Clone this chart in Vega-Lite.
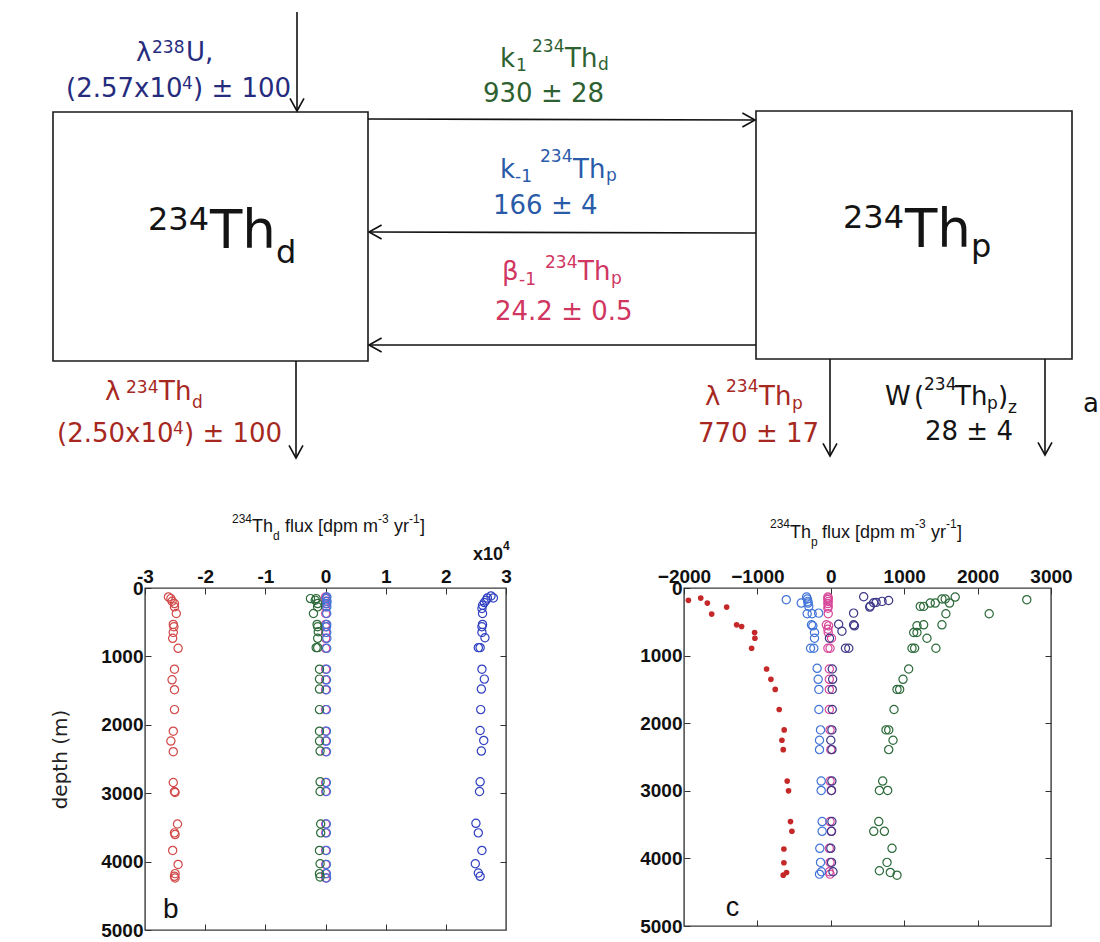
{
  "$schema": "https://vega.github.io/schema/vega-lite/v6.json",
  "padding": {"left": 50, "top": 0, "right": 0, "bottom": 0},
  "background": "white",
  "spacing": 0,
  "columns": 1,
  "align": "none",
  "resolve": {"scale": {"color": "independent", "size": "independent"}},
  "config": {
    "view": {"stroke": null},
    "axis": {
      "labelFont": "Liberation Sans",
      "labelFontWeight": "bold",
      "labelFontSize": 19,
      "labelColor": "#111",
      "tickColor": "#333",
      "tickSize": -6,
      "tickWidth": 1,
      "labelPadding": 8,
      "domain": false,
      "grid": false,
      "labelFlush": false,
      "labelOverlap": false,
      "labelBound": false
    }
  },
  "datasets": {
    "boxes": [
      {"x1": 53, "x2": 368, "y1": 112, "y2": 361},
      {"x1": 756, "x2": 1072, "y1": 111, "y2": 359}
    ],
    "arrows": [
      {"x1": 297, "y1": 12, "x2": 297, "y2": 111, "dir": "down"},
      {"x1": 368, "y1": 119, "x2": 755, "y2": 120, "dir": "right"},
      {"x1": 756, "y1": 233, "x2": 369, "y2": 232, "dir": "left"},
      {"x1": 756, "y1": 345, "x2": 369, "y2": 345, "dir": "left"},
      {"x1": 296, "y1": 361, "x2": 296, "y2": 458, "dir": "down"},
      {"x1": 830, "y1": 359, "x2": 830, "y2": 456, "dir": "down"},
      {"x1": 1045, "y1": 359, "x2": 1045, "y2": 455, "dir": "down"}
    ],
    "labels": [
      {"x": 136, "y": 61, "t": "λ", "k": "m", "c": "U"},
      {"x": 152, "y": 53, "t": "238", "k": "s", "c": "U"},
      {"x": 186, "y": 61, "t": "U,", "k": "m", "c": "U"},
      {"x": 66, "y": 97, "t": "(2.57x10", "k": "m", "c": "U"},
      {"x": 182, "y": 89, "t": "4", "k": "s", "c": "U"},
      {"x": 193, "y": 97, "t": ") ± 100", "k": "m", "c": "U"},
      {"x": 500, "y": 67, "t": "k", "k": "m", "c": "k1"},
      {"x": 516, "y": 71, "t": "1", "k": "s", "c": "k1"},
      {"x": 532, "y": 52, "t": "234", "k": "s", "c": "k1"},
      {"x": 565, "y": 67, "t": "Th", "k": "m", "c": "k1"},
      {"x": 598, "y": 70, "t": "d", "k": "s", "c": "k1"},
      {"x": 483, "y": 102, "t": "930 ± 28", "k": "m", "c": "k1"},
      {"x": 500, "y": 178, "t": "k", "k": "m", "c": "km1"},
      {"x": 515, "y": 182, "t": "-1", "k": "s", "c": "km1"},
      {"x": 540, "y": 162, "t": "234", "k": "s", "c": "km1"},
      {"x": 573, "y": 178, "t": "Th", "k": "m", "c": "km1"},
      {"x": 606, "y": 181, "t": "p", "k": "s", "c": "km1"},
      {"x": 493, "y": 214, "t": "166 ± 4", "k": "m", "c": "km1"},
      {"x": 502, "y": 280, "t": "β", "k": "m", "c": "beta"},
      {"x": 519, "y": 285, "t": "-1", "k": "s", "c": "beta"},
      {"x": 545, "y": 268, "t": "234", "k": "s", "c": "beta"},
      {"x": 578, "y": 280, "t": "Th", "k": "m", "c": "beta"},
      {"x": 611, "y": 284, "t": "p", "k": "s", "c": "beta"},
      {"x": 495, "y": 320, "t": "24.2 ± 0.5", "k": "m", "c": "beta"},
      {"x": 105, "y": 400, "t": "λ", "k": "m", "c": "lam"},
      {"x": 126, "y": 393, "t": "234", "k": "s", "c": "lam"},
      {"x": 159, "y": 400, "t": "Th", "k": "m", "c": "lam"},
      {"x": 192, "y": 408, "t": "d", "k": "s", "c": "lam"},
      {"x": 57, "y": 442, "t": "(2.50x10", "k": "m", "c": "lam"},
      {"x": 173, "y": 434, "t": "4", "k": "s", "c": "lam"},
      {"x": 184, "y": 442, "t": ") ± 100", "k": "m", "c": "lam"},
      {"x": 705, "y": 405, "t": "λ", "k": "m", "c": "lam"},
      {"x": 726, "y": 392, "t": "234", "k": "s", "c": "lam"},
      {"x": 759, "y": 405, "t": "Th", "k": "m", "c": "lam"},
      {"x": 792, "y": 409, "t": "p", "k": "s", "c": "lam"},
      {"x": 698, "y": 442, "t": "770 ± 17", "k": "m", "c": "lam"},
      {"x": 885, "y": 405, "t": "W", "k": "m", "c": "K"},
      {"x": 914, "y": 405, "t": "(", "k": "m", "c": "K"},
      {"x": 924, "y": 390, "t": "234", "k": "s", "c": "K"},
      {"x": 955, "y": 405, "t": "Th", "k": "m", "c": "K"},
      {"x": 987, "y": 409, "t": "p", "k": "s", "c": "K"},
      {"x": 998, "y": 405, "t": ")", "k": "m", "c": "K"},
      {"x": 1008, "y": 413, "t": "z", "k": "s", "c": "K"},
      {"x": 925, "y": 440, "t": "28 ± 4", "k": "m", "c": "K"},
      {"x": 1083, "y": 412, "t": "a", "k": "m", "c": "K"},
      {"x": 148, "y": 230, "t": "234", "k": "b", "c": "K"},
      {"x": 210, "y": 248, "t": "Th", "k": "B", "c": "K"},
      {"x": 276, "y": 263, "t": "d", "k": "b", "c": "K"},
      {"x": 843, "y": 228, "t": "234", "k": "b", "c": "K"},
      {"x": 905, "y": 247, "t": "Th", "k": "B", "c": "K"},
      {"x": 971, "y": 257, "t": "p", "k": "b", "c": "K"},
      {"x": 232, "y": 523, "t": "234", "k": "ts", "c": "K"},
      {"x": 252, "y": 532, "t": "Th", "k": "tm", "c": "K"},
      {"x": 273, "y": 540, "t": "d", "k": "ts", "c": "K"},
      {"x": 285, "y": 532, "t": "flux [dpm m", "k": "tm", "c": "K"},
      {"x": 378, "y": 523, "t": "-3", "k": "ts", "c": "K"},
      {"x": 394, "y": 532, "t": "yr", "k": "tm", "c": "K"},
      {"x": 409, "y": 523, "t": "-1", "k": "ts", "c": "K"},
      {"x": 420, "y": 532, "t": "]", "k": "tm", "c": "K"},
      {"x": 770, "y": 528, "t": "234", "k": "ts", "c": "K"},
      {"x": 790, "y": 538, "t": "Th", "k": "tm", "c": "K"},
      {"x": 811, "y": 546, "t": "p", "k": "ts", "c": "K"},
      {"x": 822, "y": 538, "t": "flux [dpm m", "k": "tm", "c": "K"},
      {"x": 915, "y": 528, "t": "-3", "k": "ts", "c": "K"},
      {"x": 931, "y": 538, "t": "yr", "k": "tm", "c": "K"},
      {"x": 946, "y": 528, "t": "-1", "k": "ts", "c": "K"},
      {"x": 957, "y": 538, "t": "]", "k": "tm", "c": "K"},
      {"x": 473, "y": 560, "t": "x10", "k": "xm", "c": "K"},
      {"x": 503, "y": 550, "t": "4", "k": "xs", "c": "K"}
    ],
    "pb": [
      {"s": "beta", "d": 131, "v": 30}, {"s": "beta", "d": 155, "v": 20}, {"s": "beta", "d": 194, "v": 30}, {"s": "beta", "d": 228, "v": 25}, {"s": "beta", "d": 276, "v": 25}, {"s": "beta", "d": 373, "v": 25}, {"s": "beta", "d": 533, "v": 25}, {"s": "beta", "d": 567, "v": 25}, {"s": "beta", "d": 649, "v": 25}, {"s": "beta", "d": 736, "v": 25}, {"s": "beta", "d": 882, "v": 25}, {"s": "beta", "d": 1187, "v": 24}, {"s": "beta", "d": 1342, "v": 24}, {"s": "beta", "d": 1487, "v": 24}, {"s": "beta", "d": 1778, "v": 24}, {"s": "beta", "d": 2093, "v": 24}, {"s": "beta", "d": 2238, "v": 24}, {"s": "beta", "d": 2393, "v": 24}, {"s": "beta", "d": 2844, "v": 24}, {"s": "beta", "d": 2975, "v": 24}, {"s": "beta", "d": 3450, "v": 24}, {"s": "beta", "d": 3580, "v": 24}, {"s": "beta", "d": 3837, "v": 24}, {"s": "beta", "d": 4041, "v": 24}, {"s": "beta", "d": 4176, "v": 24}, {"s": "beta", "d": 4239, "v": 24},
      {"s": "km1", "d": 131, "v": 220}, {"s": "km1", "d": 155, "v": 150}, {"s": "km1", "d": 194, "v": 250}, {"s": "km1", "d": 228, "v": 200}, {"s": "km1", "d": 276, "v": 220}, {"s": "km1", "d": 373, "v": 200}, {"s": "km1", "d": 533, "v": 200}, {"s": "km1", "d": 567, "v": 180}, {"s": "km1", "d": 649, "v": 200}, {"s": "km1", "d": 736, "v": 220}, {"s": "km1", "d": 882, "v": 200}, {"s": "km1", "d": 1187, "v": 170}, {"s": "km1", "d": 1342, "v": 170}, {"s": "km1", "d": 1487, "v": 160}, {"s": "km1", "d": 1778, "v": 160}, {"s": "km1", "d": 2093, "v": 160}, {"s": "km1", "d": 2238, "v": 160}, {"s": "km1", "d": 2393, "v": 160}, {"s": "km1", "d": 2844, "v": 150}, {"s": "km1", "d": 2975, "v": 150}, {"s": "km1", "d": 3450, "v": 150}, {"s": "km1", "d": 3580, "v": 150}, {"s": "km1", "d": 3837, "v": 140}, {"s": "km1", "d": 4041, "v": 150}, {"s": "km1", "d": 4176, "v": 150}, {"s": "km1", "d": 4239, "v": 180},
      {"s": "k1", "d": 155, "v": -2500}, {"s": "k1", "d": 155, "v": -1550}, {"s": "k1", "d": 179, "v": -1700}, {"s": "k1", "d": 228, "v": -1300}, {"s": "k1", "d": 276, "v": -1300}, {"s": "k1", "d": 373, "v": -2000}, {"s": "k1", "d": 533, "v": -1400}, {"s": "k1", "d": 567, "v": -1300}, {"s": "k1", "d": 640, "v": -1200}, {"s": "k1", "d": 736, "v": -1300}, {"s": "k1", "d": 872, "v": -1300}, {"s": "k1", "d": 872, "v": -1550}, {"s": "k1", "d": 1187, "v": -1000}, {"s": "k1", "d": 1332, "v": -1000}, {"s": "k1", "d": 1478, "v": -1000}, {"s": "k1", "d": 1778, "v": -1000}, {"s": "k1", "d": 2093, "v": -1000}, {"s": "k1", "d": 2238, "v": -1000}, {"s": "k1", "d": 2384, "v": -900}, {"s": "k1", "d": 2834, "v": -900}, {"s": "k1", "d": 2975, "v": -900}, {"s": "k1", "d": 3450, "v": -800}, {"s": "k1", "d": 3580, "v": -800}, {"s": "k1", "d": 3837, "v": -1000}, {"s": "k1", "d": 4031, "v": -900}, {"s": "k1", "d": 4176, "v": -1000}, {"s": "k1", "d": 4225, "v": -900},
      {"s": "lamd", "d": 131, "v": -26100}, {"s": "lamd", "d": 155, "v": -25700}, {"s": "lamd", "d": 194, "v": -25500}, {"s": "lamd", "d": 228, "v": -25100}, {"s": "lamd", "d": 276, "v": -25100}, {"s": "lamd", "d": 373, "v": -24800}, {"s": "lamd", "d": 533, "v": -25300}, {"s": "lamd", "d": 567, "v": -25200}, {"s": "lamd", "d": 649, "v": -25300}, {"s": "lamd", "d": 736, "v": -25400}, {"s": "lamd", "d": 882, "v": -24500}, {"s": "lamd", "d": 1187, "v": -25100}, {"s": "lamd", "d": 1342, "v": -25500}, {"s": "lamd", "d": 1487, "v": -25100}, {"s": "lamd", "d": 1778, "v": -25100}, {"s": "lamd", "d": 2093, "v": -25300}, {"s": "lamd", "d": 2238, "v": -25700}, {"s": "lamd", "d": 2393, "v": -25300}, {"s": "lamd", "d": 2844, "v": -25300}, {"s": "lamd", "d": 2975, "v": -25100}, {"s": "lamd", "d": 2990, "v": -25000}, {"s": "lamd", "d": 3450, "v": -24600}, {"s": "lamd", "d": 3580, "v": -25100}, {"s": "lamd", "d": 3605, "v": -25000}, {"s": "lamd", "d": 3837, "v": -25400}, {"s": "lamd", "d": 4041, "v": -24500}, {"s": "lamd", "d": 4176, "v": -25000}, {"s": "lamd", "d": 4215, "v": -25100}, {"s": "lamd", "d": 4239, "v": -25000},
      {"s": "U", "d": 116, "v": 27500}, {"s": "U", "d": 145, "v": 27900}, {"s": "U", "d": 145, "v": 26900}, {"s": "U", "d": 179, "v": 26700}, {"s": "U", "d": 213, "v": 26400}, {"s": "U", "d": 252, "v": 26100}, {"s": "U", "d": 300, "v": 26000}, {"s": "U", "d": 373, "v": 26100}, {"s": "U", "d": 533, "v": 26100}, {"s": "U", "d": 567, "v": 26000}, {"s": "U", "d": 649, "v": 26000}, {"s": "U", "d": 727, "v": 26500}, {"s": "U", "d": 872, "v": 25400}, {"s": "U", "d": 872, "v": 25700}, {"s": "U", "d": 1187, "v": 26000}, {"s": "U", "d": 1332, "v": 26400}, {"s": "U", "d": 1478, "v": 25900}, {"s": "U", "d": 1778, "v": 25800}, {"s": "U", "d": 2083, "v": 25700}, {"s": "U", "d": 2229, "v": 26300}, {"s": "U", "d": 2384, "v": 25900}, {"s": "U", "d": 2834, "v": 25700}, {"s": "U", "d": 2975, "v": 25600}, {"s": "U", "d": 3440, "v": 25000}, {"s": "U", "d": 3580, "v": 25400}, {"s": "U", "d": 3837, "v": 26000}, {"s": "U", "d": 4031, "v": 24900}, {"s": "U", "d": 4167, "v": 25400}, {"s": "U", "d": 4215, "v": 25700}
    ],
    "pc": [
      {"s": "beta", "d": 134, "v": -40}, {"s": "beta", "d": 150, "v": -35}, {"s": "beta", "d": 170, "v": -40}, {"s": "beta", "d": 200, "v": -35}, {"s": "beta", "d": 230, "v": -40}, {"s": "beta", "d": 270, "v": -35}, {"s": "beta", "d": 300, "v": -40}, {"s": "beta", "d": 380, "v": -35}, {"s": "beta", "d": 545, "v": -60}, {"s": "beta", "d": 560, "v": -30}, {"s": "beta", "d": 610, "v": -40}, {"s": "beta", "d": 658, "v": -35}, {"s": "beta", "d": 743, "v": 10}, {"s": "beta", "d": 891, "v": -40}, {"s": "beta", "d": 891, "v": -10}, {"s": "beta", "d": 1198, "v": -20}, {"s": "beta", "d": 1351, "v": -20}, {"s": "beta", "d": 1500, "v": -20}, {"s": "beta", "d": 1797, "v": -20}, {"s": "beta", "d": 2099, "v": -10}, {"s": "beta", "d": 2391, "v": 0}, {"s": "beta", "d": 2856, "v": -10}, {"s": "beta", "d": 2995, "v": 5}, {"s": "beta", "d": 3455, "v": -10}, {"s": "beta", "d": 3599, "v": 5}, {"s": "beta", "d": 3851, "v": -20}, {"s": "beta", "d": 4059, "v": -10}, {"s": "beta", "d": 4198, "v": -20}, {"s": "beta", "d": 4233, "v": -10},
      {"s": "W", "d": 129, "v": 448}, {"s": "W", "d": 185, "v": 788}, {"s": "W", "d": 198, "v": 698}, {"s": "W", "d": 218, "v": 584}, {"s": "W", "d": 213, "v": 617}, {"s": "W", "d": 268, "v": 538}, {"s": "W", "d": 282, "v": 530}, {"s": "W", "d": 372, "v": 311}, {"s": "W", "d": 536, "v": 107}, {"s": "W", "d": 545, "v": 311}, {"s": "W", "d": 559, "v": 322}, {"s": "W", "d": 640, "v": 152}, {"s": "W", "d": 891, "v": 200}, {"s": "W", "d": 891, "v": 245}, {"s": "W", "d": 743, "v": -18}, {"s": "W", "d": 1198, "v": 20}, {"s": "W", "d": 1351, "v": 25}, {"s": "W", "d": 1500, "v": 20}, {"s": "W", "d": 1797, "v": 20}, {"s": "W", "d": 2099, "v": 15}, {"s": "W", "d": 2252, "v": 0}, {"s": "W", "d": 2391, "v": 15}, {"s": "W", "d": 2856, "v": 15}, {"s": "W", "d": 2995, "v": 10}, {"s": "W", "d": 3455, "v": 15}, {"s": "W", "d": 3599, "v": 10}, {"s": "W", "d": 3851, "v": 0}, {"s": "W", "d": 4059, "v": 10}, {"s": "W", "d": 4198, "v": 30},
      {"s": "km1", "d": 173, "v": -607}, {"s": "km1", "d": 223, "v": -403}, {"s": "km1", "d": 134, "v": -330}, {"s": "km1", "d": 163, "v": -320}, {"s": "km1", "d": 198, "v": -312}, {"s": "km1", "d": 223, "v": -310}, {"s": "km1", "d": 272, "v": -300}, {"s": "km1", "d": 381, "v": -322}, {"s": "km1", "d": 381, "v": -254}, {"s": "km1", "d": 372, "v": -165}, {"s": "km1", "d": 545, "v": -263}, {"s": "km1", "d": 559, "v": -245}, {"s": "km1", "d": 658, "v": -222}, {"s": "km1", "d": 743, "v": -222}, {"s": "km1", "d": 891, "v": -276}, {"s": "km1", "d": 891, "v": -231}, {"s": "km1", "d": 1188, "v": -186}, {"s": "km1", "d": 1351, "v": -172}, {"s": "km1", "d": 1500, "v": -163}, {"s": "km1", "d": 1797, "v": -163}, {"s": "km1", "d": 2099, "v": -140}, {"s": "km1", "d": 2252, "v": -154}, {"s": "km1", "d": 2391, "v": -154}, {"s": "km1", "d": 2856, "v": -131}, {"s": "km1", "d": 2995, "v": -131}, {"s": "km1", "d": 3455, "v": -118}, {"s": "km1", "d": 3599, "v": -118}, {"s": "km1", "d": 3851, "v": -150}, {"s": "km1", "d": 4059, "v": -140}, {"s": "km1", "d": 4198, "v": -127}, {"s": "km1", "d": 4233, "v": -154},
      {"s": "k1", "d": 134, "v": 1695}, {"s": "k1", "d": 163, "v": 1514}, {"s": "k1", "d": 163, "v": 1559}, {"s": "k1", "d": 223, "v": 1355}, {"s": "k1", "d": 223, "v": 1423}, {"s": "k1", "d": 272, "v": 1219}, {"s": "k1", "d": 272, "v": 1265}, {"s": "k1", "d": 223, "v": 1618}, {"s": "k1", "d": 173, "v": 2670}, {"s": "k1", "d": 381, "v": 2158}, {"s": "k1", "d": 381, "v": 1568}, {"s": "k1", "d": 559, "v": 1174}, {"s": "k1", "d": 545, "v": 1265}, {"s": "k1", "d": 658, "v": 1129}, {"s": "k1", "d": 658, "v": 1174}, {"s": "k1", "d": 545, "v": 1514}, {"s": "k1", "d": 743, "v": 1310}, {"s": "k1", "d": 891, "v": 1106}, {"s": "k1", "d": 891, "v": 1142}, {"s": "k1", "d": 891, "v": 1432}, {"s": "k1", "d": 1198, "v": 1061}, {"s": "k1", "d": 1351, "v": 984}, {"s": "k1", "d": 1500, "v": 902}, {"s": "k1", "d": 1500, "v": 938}, {"s": "k1", "d": 1797, "v": 861}, {"s": "k1", "d": 2099, "v": 752}, {"s": "k1", "d": 2099, "v": 789}, {"s": "k1", "d": 2252, "v": 848}, {"s": "k1", "d": 2391, "v": 789}, {"s": "k1", "d": 2856, "v": 707}, {"s": "k1", "d": 2995, "v": 662}, {"s": "k1", "d": 2995, "v": 775}, {"s": "k1", "d": 3455, "v": 653}, {"s": "k1", "d": 3599, "v": 585}, {"s": "k1", "d": 3599, "v": 730}, {"s": "k1", "d": 3851, "v": 834}, {"s": "k1", "d": 4059, "v": 766}, {"s": "k1", "d": 4183, "v": 662}, {"s": "k1", "d": 4208, "v": 811}, {"s": "k1", "d": 4248, "v": 902}
    ],
    "pcr": [
      {"s": "lamp", "d": 149, "v": -1772}, {"s": "lamp", "d": 183, "v": -1940}, {"s": "lamp", "d": 223, "v": -1682}, {"s": "lamp", "d": 282, "v": -1419}, {"s": "lamp", "d": 386, "v": -1623}, {"s": "lamp", "d": 545, "v": -1283}, {"s": "lamp", "d": 569, "v": -1215}, {"s": "lamp", "d": 658, "v": -1038}, {"s": "lamp", "d": 743, "v": -1034}, {"s": "lamp", "d": 891, "v": -1079}, {"s": "lamp", "d": 1198, "v": -875}, {"s": "lamp", "d": 1351, "v": -816}, {"s": "lamp", "d": 1500, "v": -757}, {"s": "lamp", "d": 1797, "v": -703}, {"s": "lamp", "d": 2099, "v": -635}, {"s": "lamp", "d": 2252, "v": -666}, {"s": "lamp", "d": 2391, "v": -648}, {"s": "lamp", "d": 2856, "v": -594}, {"s": "lamp", "d": 3000, "v": -576}, {"s": "lamp", "d": 3455, "v": -549}, {"s": "lamp", "d": 3599, "v": -530}, {"s": "lamp", "d": 3861, "v": -639}, {"s": "lamp", "d": 4064, "v": -639}, {"s": "lamp", "d": 4208, "v": -603}, {"s": "lamp", "d": 4248, "v": -648}
    ]
  },
  "concat": [
    {
      "width": 955,
      "height": 566,
      "layer": [
        {
          "data": {"name": "boxes"},
          "mark": {"type": "rect", "fill": "white", "stroke": "#1a1a1a", "strokeWidth": 1.6},
          "encoding": {
            "x": {"field": "x1", "type": "quantitative", "scale": {"domain": [145, 1100], "nice": false, "zero": false}, "axis": null},
            "x2": {"field": "x2"},
            "y": {"field": "y1", "type": "quantitative", "scale": {"domain": [0, 566], "reverse": true, "nice": false, "zero": false}, "axis": null},
            "y2": {"field": "y2"}
          }
        },
        {
          "data": {"name": "arrows"},
          "mark": {"type": "rule", "stroke": "#111", "strokeWidth": 1.6},
          "encoding": {
            "x": {"field": "x1", "type": "quantitative", "axis": null},
            "x2": {"field": "x2"},
            "y": {"field": "y1", "type": "quantitative", "axis": null},
            "y2": {"field": "y2"}
          }
        },
        {
          "data": {"name": "arrows"},
          "transform": [{"filter": "datum.dir === 'down'"}],
          "mark": {"type": "point", "shape": "M-1,-1.8L0,0L1,-1.8", "filled": false, "color": "#111", "strokeWidth": 1.6, "size": 196, "opacity": 1},
          "encoding": {
            "x": {"field": "x2", "type": "quantitative", "axis": null},
            "y": {"field": "y2", "type": "quantitative", "axis": null}
          }
        },
        {
          "data": {"name": "arrows"},
          "transform": [{"filter": "datum.dir === 'right'"}],
          "mark": {"type": "point", "shape": "M-1.8,-1L0,0L-1.8,1", "filled": false, "color": "#111", "strokeWidth": 1.6, "size": 196, "opacity": 1},
          "encoding": {
            "x": {"field": "x2", "type": "quantitative", "axis": null},
            "y": {"field": "y2", "type": "quantitative", "axis": null}
          }
        },
        {
          "data": {"name": "arrows"},
          "transform": [{"filter": "datum.dir === 'left'"}],
          "mark": {"type": "point", "shape": "M1.8,-1L0,0L1.8,1", "filled": false, "color": "#111", "strokeWidth": 1.6, "size": 196, "opacity": 1},
          "encoding": {
            "x": {"field": "x2", "type": "quantitative", "axis": null},
            "y": {"field": "y2", "type": "quantitative", "axis": null}
          }
        },
        {
          "data": {"name": "labels"},
          "transform": [{"filter": "indexof(['m','s','B','b'], datum.k) >= 0"}],
          "mark": {"type": "text", "font": "DejaVu Sans", "align": "left", "baseline": "alphabetic"},
          "encoding": {
            "x": {"field": "x", "type": "quantitative", "axis": null},
            "y": {"field": "y", "type": "quantitative", "axis": null},
            "text": {"field": "t"},
            "size": {"field": "k", "type": "nominal", "scale": {"type": "ordinal", "domain": ["m", "s", "B", "b", "tm", "ts", "xm", "xs"], "range": [26, 17, 53, 32, 18, 12, 18, 12]}, "legend": null},
            "color": {"field": "c", "type": "nominal", "scale": {"domain": ["U", "k1", "km1", "beta", "lam", "K"], "range": ["#262C7D", "#2E6131", "#2A5BA8", "#D0365F", "#A6281F", "#141414"]}, "legend": null}
          }
        },
        {
          "data": {"name": "labels"},
          "transform": [{"filter": "indexof(['tm','ts'], datum.k) >= 0"}],
          "mark": {"type": "text", "font": "Liberation Sans", "align": "left", "baseline": "alphabetic"},
          "encoding": {
            "x": {"field": "x", "type": "quantitative", "axis": null},
            "y": {"field": "y", "type": "quantitative", "axis": null},
            "text": {"field": "t"},
            "size": {"field": "k", "type": "nominal", "scale": {"type": "ordinal", "domain": ["m", "s", "B", "b", "tm", "ts", "xm", "xs"], "range": [26, 17, 53, 32, 18, 12, 18, 12]}, "legend": null},
            "color": {"field": "c", "type": "nominal", "scale": {"domain": ["U", "k1", "km1", "beta", "lam", "K"], "range": ["#262C7D", "#2E6131", "#2A5BA8", "#D0365F", "#A6281F", "#141414"]}, "legend": null}
          }
        },
        {
          "data": {"name": "labels"},
          "transform": [{"filter": "indexof(['xm','xs'], datum.k) >= 0"}],
          "mark": {"type": "text", "font": "Liberation Sans", "fontWeight": "bold", "align": "left", "baseline": "alphabetic"},
          "encoding": {
            "x": {"field": "x", "type": "quantitative", "axis": null},
            "y": {"field": "y", "type": "quantitative", "axis": null},
            "text": {"field": "t"},
            "size": {"field": "k", "type": "nominal", "scale": {"type": "ordinal", "domain": ["m", "s", "B", "b", "tm", "ts", "xm", "xs"], "range": [26, 17, 53, 32, 18, 12, 18, 12]}, "legend": null},
            "color": {"field": "c", "type": "nominal", "scale": {"domain": ["U", "k1", "km1", "beta", "lam", "K"], "range": ["#262C7D", "#2E6131", "#2A5BA8", "#D0365F", "#A6281F", "#141414"]}, "legend": null}
          }
        }
      ]
    },
    {
      "spacing": 127,
      "hconcat": [
        {
          "width": 361,
          "height": 342,
          "view": {"stroke": "#3a3a3a", "strokeWidth": 1.4},
          "layer": [
            {
              "data": {"name": "pb"},
              "mark": {"type": "point", "shape": "circle", "filled": false, "size": 68, "strokeWidth": 1.2, "opacity": 1},
              "encoding": {
                "x": {"field": "v", "type": "quantitative", "scale": {"domain": [-30000, 30000], "nice": false, "zero": false}, "axis": {"orient": "top", "values": [-30000, -20000, -10000, 0, 10000, 20000, 30000], "labelExpr": "datum.value / 10000", "title": null}},
                "y": {"field": "d", "type": "quantitative", "scale": {"domain": [0, 5000], "reverse": true, "nice": false, "zero": false}, "axis": {"orient": "left", "values": [0, 1000, 2000, 3000, 4000, 5000], "format": "d", "title": "depth (m)", "titleFont": "DejaVu Sans", "titleFontSize": 20, "titleFontWeight": "normal", "titleColor": "#222", "titlePadding": 30}},
                "color": {"field": "s", "type": "nominal", "scale": {"domain": ["U", "lamd", "k1", "km1", "beta", "lamp", "W"], "range": ["#3040C0", "#D24848", "#2D6A3A", "#4274D8", "#D8489A", "#C42828", "#3E3888"]}, "legend": null}
              }
            },
            {
              "data": {"values": [{"v": -27000, "d": 4830, "t": "b"}]},
              "mark": {"type": "text", "font": "Liberation Sans", "fontSize": 28, "align": "left", "baseline": "alphabetic", "color": "#111"},
              "encoding": {
                "x": {"field": "v", "type": "quantitative", "axis": {"orient": "bottom", "labels": false, "title": null, "values": [-20000, -10000, 0, 10000, 20000]}},
                "y": {"field": "d", "type": "quantitative", "axis": {"orient": "right", "labels": false, "title": null, "values": [1000, 2000, 3000, 4000]}},
                "text": {"field": "t"}
              }
            }
          ],
          "resolve": {"axis": {"x": "independent", "y": "independent"}}
        },
        {
          "width": 367,
          "height": 338,
          "view": {"stroke": "#3a3a3a", "strokeWidth": 1.4},
          "layer": [
            {
              "data": {"name": "pc"},
              "mark": {"type": "point", "shape": "circle", "filled": false, "size": 68, "strokeWidth": 1.2, "opacity": 1},
              "encoding": {
                "x": {"field": "v", "type": "quantitative", "scale": {"domain": [-2000, 3000], "nice": false, "zero": false}, "axis": {"orient": "top", "values": [-2000, -1000, 0, 1000, 2000, 3000], "format": "d", "title": null}},
                "y": {"field": "d", "type": "quantitative", "scale": {"domain": [0, 5000], "reverse": true, "nice": false, "zero": false}, "axis": {"orient": "left", "values": [0, 1000, 2000, 3000, 4000, 5000], "format": "d", "title": null}},
                "color": {"field": "s", "type": "nominal", "scale": {"domain": ["U", "lamd", "k1", "km1", "beta", "lamp", "W"], "range": ["#3040C0", "#D24848", "#2D6A3A", "#4274D8", "#D8489A", "#C42828", "#3E3888"]}, "legend": null}
              }
            },
            {
              "data": {"name": "pcr"},
              "mark": {"type": "point", "shape": "circle", "filled": true, "size": 32, "opacity": 1},
              "encoding": {
                "x": {"field": "v", "type": "quantitative", "axis": null},
                "y": {"field": "d", "type": "quantitative", "axis": null},
                "color": {"field": "s", "type": "nominal", "scale": {"domain": ["U", "lamd", "k1", "km1", "beta", "lamp", "W"], "range": ["#3040C0", "#D24848", "#2D6A3A", "#4274D8", "#D8489A", "#C42828", "#3E3888"]}, "legend": null}
              }
            },
            {
              "data": {"values": [{"v": -1430, "d": 4850, "t": "c"}]},
              "mark": {"type": "text", "font": "Liberation Sans", "fontSize": 27, "align": "left", "baseline": "alphabetic", "color": "#111"},
              "encoding": {
                "x": {"field": "v", "type": "quantitative", "axis": {"orient": "bottom", "labels": false, "title": null, "values": [-1000, 0, 1000, 2000]}},
                "y": {"field": "d", "type": "quantitative", "axis": {"orient": "right", "labels": false, "title": null, "values": [1000, 2000, 3000, 4000]}},
                "text": {"field": "t"}
              }
            }
          ],
          "resolve": {"axis": {"x": "independent", "y": "independent"}}
        }
      ]
    }
  ]
}
